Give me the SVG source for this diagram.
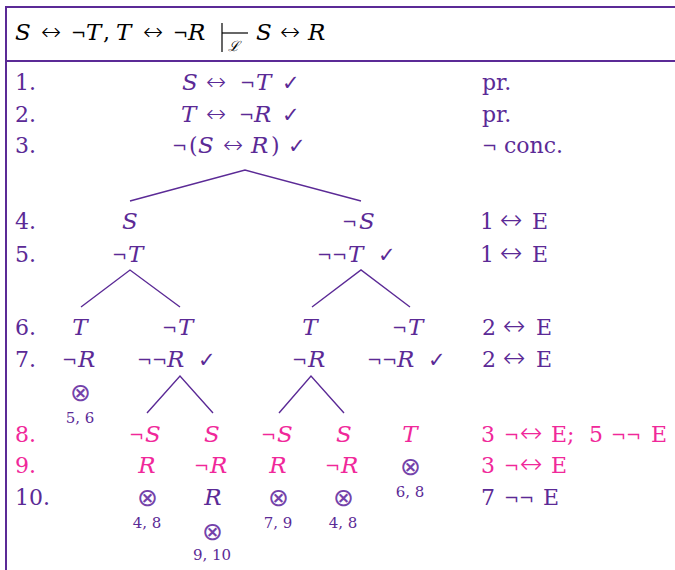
<svg xmlns="http://www.w3.org/2000/svg" width="675" height="570" viewBox="0 0 675 570">
<style>
text{font-family:"DejaVu Serif","Liberation Serif",serif;font-size:22px;fill:#5b2a96}
.i{font-style:italic;font-size:23px}
.n{font-size:18px}
.p{fill:#f0289a}
.k{fill:#000}
.a{font-family:"DejaVu Sans",sans-serif;font-size:24px;font-weight:200}
.aj{font-family:"DejaVu Sans",sans-serif;font-size:27px;font-weight:200}
.s{font-size:15px}
.x{font-family:"DejaVu Sans",sans-serif;font-size:25px;font-weight:200;fill:#7442aa}
.ck{font-family:"DejaVu Sans",sans-serif;font-size:21px}
.frame{stroke:#5b2a96;stroke-width:2;fill:none}
.br{stroke:#5b2a96;stroke-width:1.4;fill:none}
</style>
<g id="frame">
<line class="frame" x1="6" y1="7" x2="675" y2="7"/>
<line class="frame" x1="6" y1="61" x2="675" y2="61"/>
<line class="frame" x1="6" y1="6" x2="6" y2="570"/>
</g>
<g id="header">
<text y="40" class="k"><tspan x="15" class="i">S</tspan><tspan x="41" class="a">↔</tspan><tspan x="71" class="n">¬</tspan><tspan x="86" class="i">T</tspan><tspan x="103">,</tspan><tspan x="116" class="i">T</tspan><tspan x="143" class="a">↔</tspan><tspan x="173" class="n">¬</tspan><tspan x="188" class="i">R</tspan></text>
<line x1="222" y1="23" x2="222" y2="52" stroke="#000" stroke-width="1.2"/>
<line x1="222" y1="33" x2="248" y2="33" stroke="#000" stroke-width="1.2"/>
<text x="228" y="51" class="k" style="font-size:14px;font-style:italic">ℒ</text>
<text y="40" class="k"><tspan x="256" class="i">S</tspan><tspan x="280" class="a">↔</tspan><tspan x="308" class="i">R</tspan></text>
</g>
<g id="numbers">
<text x="15" y="90">1.</text>
<text x="15" y="122">2.</text>
<text x="15" y="153">3.</text>
<text x="15" y="229">4.</text>
<text x="15" y="262">5.</text>
<text x="15" y="335">6.</text>
<text x="15" y="367">7.</text>
<text x="15" y="442" class="p">8.</text>
<text x="15" y="473" class="p">9.</text>
<text x="15" y="505">10.</text>
</g>
<g id="just">
<text x="482" y="90">pr.</text>
<text x="482" y="122">pr.</text>
<text y="153"><tspan x="482" class="n">¬</tspan><tspan x="504">conc.</tspan></text>
<text y="229"><tspan x="480">1</tspan><tspan x="500" class="aj">↔</tspan><tspan x="532">E</tspan></text>
<text y="262"><tspan x="480">1</tspan><tspan x="500" class="aj">↔</tspan><tspan x="532">E</tspan></text>
<text y="335"><tspan x="482">2</tspan><tspan x="503" class="aj">↔</tspan><tspan x="536">E</tspan></text>
<text y="367"><tspan x="482">2</tspan><tspan x="503" class="aj">↔</tspan><tspan x="536">E</tspan></text>
<text y="442" class="p"><tspan x="481">3</tspan><tspan x="504" class="n">¬</tspan><tspan x="520" class="aj">↔</tspan><tspan x="551">E;</tspan><tspan x="589">5</tspan><tspan x="611" class="n">¬</tspan><tspan x="626" class="n">¬</tspan><tspan x="651">E</tspan></text>
<text y="473" class="p"><tspan x="481">3</tspan><tspan x="504" class="n">¬</tspan><tspan x="520" class="aj">↔</tspan><tspan x="551">E</tspan></text>
<text y="505"><tspan x="481">7</tspan><tspan x="504" class="n">¬</tspan><tspan x="519" class="n">¬</tspan><tspan x="543">E</tspan></text>
</g>
<g id="n1"><text y="90"><tspan x="182" class="i">S</tspan><tspan x="206" class="a">↔</tspan><tspan x="240" class="n">¬</tspan><tspan x="256" class="i">T</tspan><tspan x="282" class="ck">✓</tspan></text></g>
<g id="n2"><text y="122"><tspan x="181" class="i">T</tspan><tspan x="206" class="a">↔</tspan><tspan x="239" class="n">¬</tspan><tspan x="254" class="i">R</tspan><tspan x="282" class="ck">✓</tspan></text></g>
<g id="n3"><text y="153"><tspan x="172" class="n">¬</tspan><tspan x="189">(</tspan><tspan x="198" class="i">S</tspan><tspan x="223" class="a">↔</tspan><tspan x="251" class="i">R</tspan><tspan x="271">)</tspan><tspan x="288" class="ck">✓</tspan></text></g>
<g id="n4L"><text x="130" y="229" text-anchor="middle" class="i">S</text></g>
<g id="n4R"><text y="229"><tspan x="342" class="n">¬</tspan><tspan x="359" class="i">S</tspan></text></g>
<g id="n5L"><text y="262"><tspan x="112" class="n">¬</tspan><tspan x="128" class="i">T</tspan></text></g>
<g id="n5R"><text y="262"><tspan x="317" class="n">¬</tspan><tspan x="332" class="n">¬</tspan><tspan x="348" class="i">T</tspan><tspan x="378" class="ck">✓</tspan></text></g>
<g id="n6a"><text x="80" y="335" text-anchor="middle" class="i">T</text></g>
<g id="n6b"><text y="335"><tspan x="162" class="n">¬</tspan><tspan x="178" class="i">T</tspan></text></g>
<g id="n6c"><text x="310" y="335" text-anchor="middle" class="i">T</text></g>
<g id="n6d"><text y="335"><tspan x="392" class="n">¬</tspan><tspan x="408" class="i">T</tspan></text></g>
<g id="n7a"><text y="367"><tspan x="62" class="n">¬</tspan><tspan x="78" class="i">R</tspan></text></g>
<g id="n7b"><text y="367"><tspan x="137" class="n">¬</tspan><tspan x="152" class="n">¬</tspan><tspan x="167" class="i">R</tspan><tspan x="198" class="ck">✓</tspan></text></g>
<g id="n7c"><text y="367"><tspan x="292" class="n">¬</tspan><tspan x="308" class="i">R</tspan></text></g>
<g id="n7d"><text y="367"><tspan x="367" class="n">¬</tspan><tspan x="382" class="n">¬</tspan><tspan x="397" class="i">R</tspan><tspan x="428" class="ck">✓</tspan></text></g>
<g id="c7a"><text x="80" y="401" text-anchor="middle" class="x">⊗</text><text x="80" y="423" text-anchor="middle" class="s">5, 6</text></g>
<g id="n8a"><text y="442" class="p"><tspan x="129" class="n">¬</tspan><tspan x="145" class="i">S</tspan></text></g>
<g id="n8b"><text x="212" y="442" text-anchor="middle" class="p i">S</text></g>
<g id="n8c"><text y="442" class="p"><tspan x="261" class="n">¬</tspan><tspan x="277" class="i">S</tspan></text></g>
<g id="n8d"><text x="344" y="442" text-anchor="middle" class="p i">S</text></g>
<g id="n8e"><text x="410" y="442" text-anchor="middle" class="p i">T</text></g>
<g id="n9a"><text x="147" y="473" text-anchor="middle" class="p i">R</text></g>
<g id="n9b"><text y="473" class="p"><tspan x="194" class="n">¬</tspan><tspan x="210" class="i">R</tspan></text></g>
<g id="n9c"><text x="278" y="473" text-anchor="middle" class="p i">R</text></g>
<g id="n9d"><text y="473" class="p"><tspan x="325" class="n">¬</tspan><tspan x="341" class="i">R</tspan></text></g>
<g id="c9e"><text x="410" y="475" text-anchor="middle" class="x">⊗</text><text x="410" y="497" text-anchor="middle" class="s">6, 8</text></g>
<g id="c10a"><text x="147" y="506" text-anchor="middle" class="x">⊗</text><text x="147" y="528" text-anchor="middle" class="s">4, 8</text></g>
<g id="n10b"><text x="213" y="505" text-anchor="middle" class="i">R</text></g>
<g id="c10c"><text x="278" y="506" text-anchor="middle" class="x">⊗</text><text x="278" y="528" text-anchor="middle" class="s">7, 9</text></g>
<g id="c10d"><text x="343" y="506" text-anchor="middle" class="x">⊗</text><text x="343" y="528" text-anchor="middle" class="s">4, 8</text></g>
<g id="c11b"><text x="212" y="540" text-anchor="middle" class="x">⊗</text><text x="212" y="560" text-anchor="middle" class="s">9, 10</text></g>
<g id="connectors">
<polyline class="br" points="130,201 245,170 361,201"/>
<polyline class="br" points="81,307 130,270 180,307"/>
<polyline class="br" points="312,307 361,270 410,307"/>
<polyline class="br" points="147,413 180,376 213,413"/>
<polyline class="br" points="279,413 311,376 344,413"/>
</g>
</svg>
